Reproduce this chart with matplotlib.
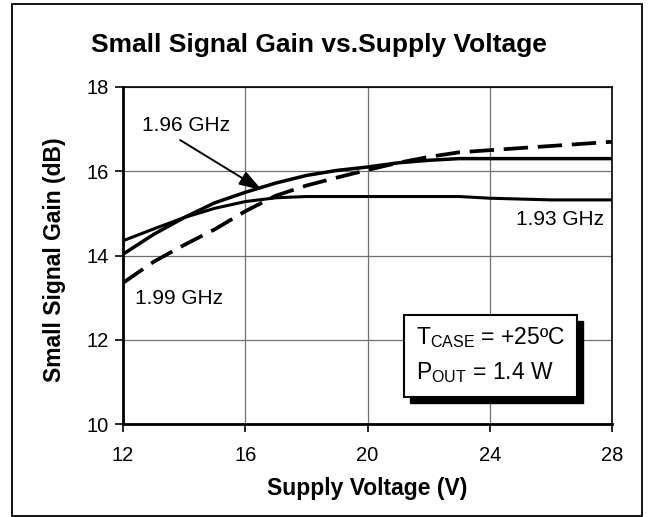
import matplotlib
matplotlib.use("Agg")
import matplotlib.pyplot as plt
from matplotlib.patches import Rectangle

plt.rcParams['font.family'] = ['Liberation Sans', 'DejaVu Sans']
plt.rcParams['mathtext.fontset'] = 'custom'
plt.rcParams['mathtext.rm'] = 'Liberation Sans'
plt.rcParams['mathtext.it'] = 'Liberation Sans'

# Data
v_193 = [12, 13, 14, 15, 16, 17, 18, 20, 22, 23, 24, 26, 28]
g_193 = [14.35, 14.63, 14.9, 15.12, 15.28, 15.37, 15.4, 15.4, 15.4, 15.4, 15.36, 15.32, 15.32]

v_196 = [12, 13, 14, 15, 16, 17, 18, 19, 20, 21, 22, 23, 24, 26, 28]
g_196 = [14.03, 14.5, 14.9, 15.25, 15.5, 15.72, 15.9, 16.02, 16.1, 16.2, 16.26, 16.3, 16.3, 16.3, 16.3]

v_199 = [12, 13, 14, 15, 16, 17, 18, 19, 20, 21, 22, 23, 24, 25, 26, 27, 28]
g_199 = [13.35, 13.85, 14.25, 14.62, 15.05, 15.42, 15.66, 15.85, 16.03, 16.2, 16.34, 16.45, 16.5, 16.55, 16.6, 16.65, 16.7]

x_ticks = [12, 16, 20, 24, 28]
y_ticks = [10, 12, 14, 16, 18]

W, H = 648.0, 517.0
fig = plt.figure(figsize=(6.48, 5.17), dpi=100)
ax = fig.add_axes([123 / W, 1 - 424 / H, (612 - 123) / W, (424 - 87) / H])

ax.plot(v_193, g_193, color='black', lw=2.2, solid_capstyle='butt', zorder=3)
ax.plot(v_196, g_196, color='black', lw=2.5, solid_capstyle='butt', zorder=3)
ax.plot(v_199, g_199, color='black', lw=2.7, dashes=(6.5, 2.6), zorder=3)

ax.set_xlim(12, 28)
ax.set_ylim(10, 18)
ax.set_xticks(x_ticks)
ax.set_yticks(y_ticks)
ax.grid(True, color='#707070', lw=0.9)
ax.set_axisbelow(True)
ax.tick_params(direction='out', length=6, width=1.2, labelsize=14.5, pad=4, color='black')
ax.tick_params(axis='x', pad=10)
for s in ['top', 'right']:
    ax.spines[s].set_linewidth(1.2)
for s in ['left', 'bottom']:
    ax.spines[s].set_linewidth(2.0)

fig.text(367 / W, 1 - 488 / H, 'Supply Voltage (V)', fontsize=16.5, fontweight='bold',
         ha='center', va='center')
fig.text(55 / W, 1 - 260 / H, 'Small Signal Gain (dB)', fontsize=16.5, fontweight='bold',
         ha='center', va='center', rotation=90)

fig.text(319 / W, 1 - 45 / H, 'Small Signal Gain vs.Supply Voltage', fontsize=19,
         fontweight='bold', ha='center', va='center')

# curve labels
ax.text(14.05, 17.08, '1.96 GHz', fontsize=15, ha='center', va='center')
ax.text(27.75, 14.86, '1.93 GHz', fontsize=15, ha='right', va='center')
ax.text(12.4, 12.99, '1.99 GHz', fontsize=15, ha='left', va='center')
ax.annotate('', xy=(16.55, 15.55), xytext=(13.87, 16.74),
            arrowprops=dict(arrowstyle='-|>,head_length=1.4,head_width=0.45',
                            color='black', lw=1.4, shrinkA=0, shrinkB=0), zorder=4)

# annotation box with shadow
bx0, by0, bx1, by1 = 404, 315, 577, 397
off = 6
shadow = Rectangle(((bx0 + off) / W, 1 - (by1 + off) / H), (bx1 - bx0) / W, (by1 - by0) / H,
                   transform=fig.transFigure, facecolor='black', edgecolor='black', zorder=5)
box = Rectangle((bx0 / W, 1 - by1 / H), (bx1 - bx0) / W, (by1 - by0) / H,
                transform=fig.transFigure, facecolor='white', edgecolor='black', lw=1.5, zorder=6)
fig.patches.extend([shadow, box])
fig.text(416 / W, 1 - 338 / H, r'T$_{\mathrm{CASE}}$ = +25ºC', fontsize=16.5, ha='left', va='center', zorder=7)
fig.text(416 / W, 1 - 373 / H, r'P$_{\mathrm{OUT}}$ = 1.4 W', fontsize=16.5, ha='left', va='center', zorder=7)

# outer frame
frame = Rectangle((12 / W, 1 - 516 / H), (642 - 12) / W, (516 - 4) / H, transform=fig.transFigure,
                  facecolor='none', edgecolor='black', lw=1.3, zorder=10)
fig.patches.append(frame)

fig.savefig('out.png', dpi=100)
